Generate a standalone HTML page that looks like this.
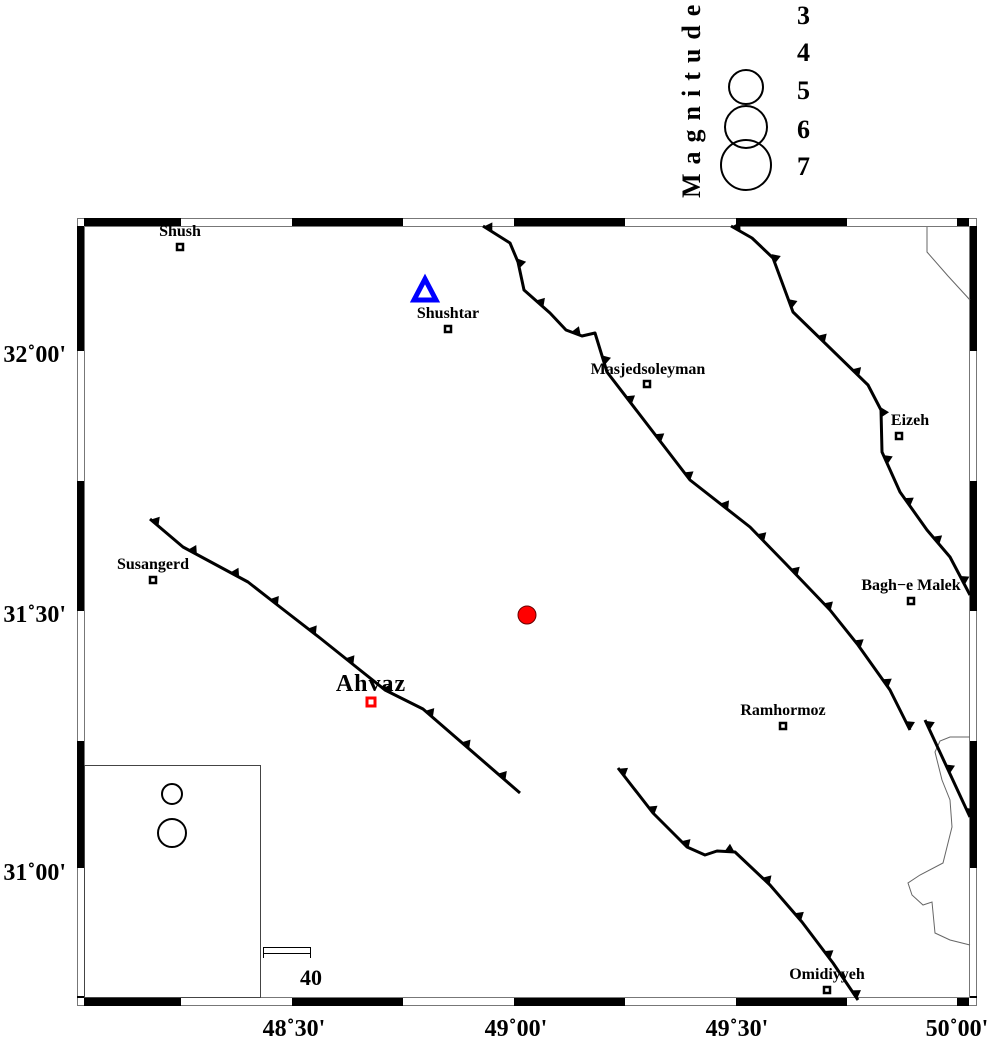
<!DOCTYPE html>
<html><head><meta charset="utf-8"><style>
html,body{margin:0;padding:0;background:#fff;}
svg{display:block;font-family:"Liberation Serif",serif;font-weight:bold;}
</style></head><body>
<svg id="s" width="987" height="1040" viewBox="0 0 987 1040" xmlns="http://www.w3.org/2000/svg">
<rect width="987" height="1040" fill="#fff"/>
<!-- legend -->
<text transform="translate(700,198) rotate(-90)" font-size="26" letter-spacing="9">Magnitude</text>
<g font-size="26"><text x="797" y="24">3</text><text x="797" y="61">4</text><text x="797" y="99">5</text><text x="797" y="138">6</text><text x="797" y="175">7</text></g>
<g fill="none" stroke="#000" stroke-width="2"><circle cx="746" cy="87" r="17"/><circle cx="746" cy="127" r="21"/><circle cx="746" cy="165" r="25"/></g>
<!-- frame -->
<rect x="77.5" y="218.5" width="899" height="787" fill="none" stroke="#777" stroke-width="1"/>
<rect x="84.5" y="226.5" width="885" height="771" fill="none" stroke="#777" stroke-width="1"/>
<g fill="#000">
<rect x="84" y="218" width="97" height="8"/><rect x="292" y="218" width="111" height="8"/><rect x="514" y="218" width="111" height="8"/><rect x="736" y="218" width="111" height="8"/><rect x="957" y="218" width="12" height="8"/>
<rect x="84" y="998" width="97" height="8"/><rect x="292" y="998" width="111" height="8"/><rect x="514" y="998" width="111" height="8"/><rect x="736" y="998" width="111" height="8"/><rect x="957" y="998" width="12" height="8"/>
<rect x="77" y="226" width="7" height="125"/><rect x="77" y="481" width="7" height="130"/><rect x="77" y="741" width="7" height="127"/><rect x="77" y="996" width="7" height="2"/>
<rect x="970" y="226" width="7" height="125"/><rect x="970" y="481" width="7" height="130"/><rect x="970" y="741" width="7" height="127"/><rect x="970" y="996" width="7" height="2"/>
</g>
<g font-size="24" text-anchor="end"><text x="66" y="362">32˚00'</text><text x="66" y="622">31˚30'</text><text x="66" y="880">31˚00'</text></g>
<g font-size="24" text-anchor="middle"><text x="294" y="1036">48˚30'</text><text x="516" y="1036">49˚00'</text><text x="737" y="1036">49˚30'</text><text x="957" y="1036">50˚00'</text></g>
<!-- coast -->
<g fill="none" stroke="#666" stroke-width="1">
<polyline points="927,227 927,252 948,276 970,300"/>
<polyline points="970,737 950,737 940,741 935,752 942,780 950,800 952,827 943,863 920,875 908,883 912,895 923,905 932,902 935,933 950,940 970,945"/>
</g>
<g id="faults" fill="none" stroke="#000" stroke-width="3" stroke-linejoin="round"></g>
<g id="teeth" fill="#000"></g>
<!-- inset -->
<rect x="84.5" y="765.5" width="176" height="232" fill="#fff" stroke="#444" stroke-width="1"/>
<g fill="none" stroke="#000" stroke-width="2"><circle cx="172" cy="794" r="10"/><circle cx="172" cy="833" r="14"/></g>
<rect x="263.5" y="947.5" width="47" height="6" fill="#fff" stroke="#000" stroke-width="1"/>
<line x1="263.5" y1="947" x2="263.5" y2="958" stroke="#000"/><line x1="310.5" y1="947" x2="310.5" y2="958" stroke="#000"/>
<text x="311" y="985" font-size="22" text-anchor="middle">40</text>
<!-- cities -->
<g font-size="16" text-anchor="middle">
<text x="180" y="236">Shush</text><text x="448" y="318">Shushtar</text><text x="648" y="374">Masjedsoleyman</text><text x="910" y="425">Eizeh</text><text x="911" y="590">Bagh−e Malek</text><text x="783" y="715">Ramhormoz</text><text x="827" y="979">Omidiyyeh</text><text x="153" y="569">Susangerd</text>
</g>
<text x="371" y="691" font-size="24" letter-spacing="1" text-anchor="middle">Ahvaz</text>
<g fill="#fff" stroke="#000" stroke-width="2.5">
<rect x="177" y="244" width="6" height="6"/><rect x="445" y="326" width="6" height="6"/><rect x="644" y="381" width="6" height="6"/><rect x="896" y="433" width="6" height="6"/><rect x="908" y="598" width="6" height="6"/><rect x="780" y="723" width="6" height="6"/><rect x="824" y="987" width="6" height="6"/><rect x="150" y="577" width="6" height="6"/>
</g>
<rect x="367" y="698" width="8" height="8" fill="#fff" stroke="#f00" stroke-width="3"/>
<polygon points="425,279 414,300 436,300" fill="none" stroke="#0000ff" stroke-width="5"/>
<circle cx="527" cy="615" r="9" fill="#f00" stroke="#600" stroke-width="1"/>
</svg>
<script>
var F=[
[[150,519],[183,547],[248,582],[280,607],[320,638],[360,670],[385,690],[423,709],[520,793]],
[[483,226],[510,243],[518,262],[524,290],[550,313],[566,330],[582,336],[595,333],[607,372],[690,480],[750,527],[785,563],[830,610],[858,645],[890,690],[910,730]],
[[731,226],[752,238],[773,258],[793,312],[868,385],[881,410],[882,452],[900,492],[927,530],[950,557],[970,595]],
[[618,768],[653,813],[687,847],[705,855],[717,851],[735,852],[770,885],[802,922],[833,963],[858,1000]],
[[925,720],[970,817]]];
var ns="http://www.w3.org/2000/svg",fg=document.getElementById('faults'),tg=document.getElementById('teeth');
F.forEach(function(p){
 var pl=document.createElementNS(ns,'polyline');pl.setAttribute('points',p.map(function(a){return a.join(',')}).join(' '));fg.appendChild(pl);
 var L=0,seg=[];for(var i=1;i<p.length;i++){var d=Math.hypot(p[i][0]-p[i-1][0],p[i][1]-p[i-1][1]);seg.push(d);L+=d;}
 var step=48;for(var t=6;t<L;t+=step){var acc=0;for(var i=0;i<seg.length;i++){if(acc+seg[i]>=t){var f=(t-acc)/seg[i],a=p[i],b=p[i+1];var x=a[0]+(b[0]-a[0])*f,y=a[1]+(b[1]-a[1])*f;var ux=(b[0]-a[0])/seg[i],uy=(b[1]-a[1])/seg[i];var nx=uy,ny=-ux;
 var tr=document.createElementNS(ns,'polygon');tr.setAttribute('points',[(x-ux*5)+','+(y-uy*5),(x+ux*5)+','+(y+uy*5),(x+nx*8)+','+(y+ny*8)].join(' '));tg.appendChild(tr);break;}acc+=seg[i];}}
});
</script>
</body></html>
